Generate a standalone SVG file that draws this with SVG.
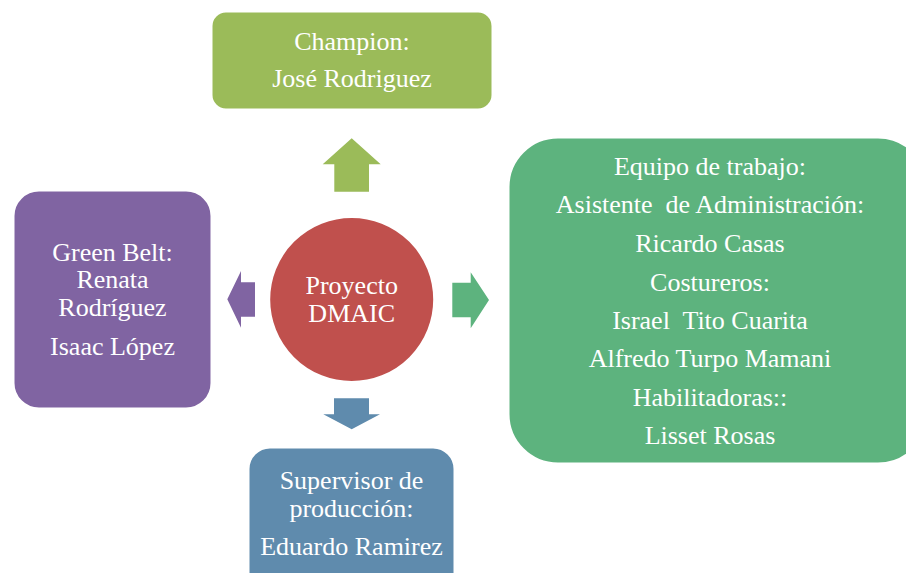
<svg xmlns="http://www.w3.org/2000/svg" width="906" height="573" viewBox="0 0 906 573">
<style>
.t{font-family:'Liberation Serif',serif;font-size:26px;fill:#fff;text-anchor:middle}
.n{stroke:#fff;stroke-width:3}
</style>
<rect width="906" height="573" fill="#fff"/>
<g id="connectors">
<polygon fill="#9BBB59" points="351.7,138.3 380.7,164.3 369,164.3 369,191.7 334.3,191.7 334.3,164.3 322.7,164.3"/>
<polygon fill="#8064A2" points="227.3,299.3 241,271 241,282.3 255,282.3 255,316.7 241,316.7 241,327.7"/>
<polygon fill="#5DB37E" points="489,300 470.7,272.3 470.7,282.7 452.3,282.7 452.3,317.3 470.7,317.3 470.7,328.3"/>
<polygon fill="#5F8BAD" points="351.7,429.3 380,414.3 369,414.3 369,398.3 334,398.3 334,414.3 323.3,414.3"/>
</g>
<g id="node-center">
<circle class="n" cx="351.7" cy="299.5" r="83" fill="#C0504D"/>
<text class="t" x="351.7" y="293.5" style="font-family:'Liberation Serif',serif">Proyecto</text>
<text class="t" x="351.7" y="321.5" style="font-family:'Liberation Serif',serif">DMAIC</text>
</g>
<g id="node-champion">
<rect class="n" x="211" y="11" width="282" height="99" rx="15" fill="#9BBB59"/>
<text class="t" x="352" y="50" style="font-family:'Liberation Serif',serif">Champion:</text>
<text class="t" x="352" y="87" style="font-family:'Liberation Serif',serif">José Rodriguez</text>
</g>
<g id="node-greenbelt">
<rect class="n" x="13" y="190" width="199" height="219" rx="26" fill="#8064A2"/>
<text class="t" x="112.5" y="261" style="font-family:'Liberation Serif',serif">Green Belt:</text>
<text class="t" x="112.5" y="288" style="font-family:'Liberation Serif',serif">Renata</text>
<text class="t" x="112.5" y="315.7" style="font-family:'Liberation Serif',serif">Rodríguez</text>
<text class="t" x="112.5" y="355" style="font-family:'Liberation Serif',serif">Isaac López</text>
</g>
<g id="node-equipo">
<rect class="n" x="508" y="137" width="420" height="327" rx="50" fill="#5DB37E"/>
<text class="t" x="710" y="175" style="font-family:'Liberation Serif',serif">Equipo de trabajo:</text>
<text class="t" x="710" y="213" style="font-family:'Liberation Serif',serif">Asistente&#160; de Administración:</text>
<text class="t" x="710" y="252" style="font-family:'Liberation Serif',serif">Ricardo Casas</text>
<text class="t" x="710" y="290.5" style="font-family:'Liberation Serif',serif">Costureros:</text>
<text class="t" x="710" y="329" style="font-family:'Liberation Serif',serif">Israel&#160; Tito Cuarita</text>
<text class="t" x="710" y="367" style="font-family:'Liberation Serif',serif">Alfredo Turpo Mamani</text>
<text class="t" x="710" y="406" style="font-family:'Liberation Serif',serif">Habilitadoras::</text>
<text class="t" x="710" y="444" style="font-family:'Liberation Serif',serif">Lisset Rosas</text>
</g>
<g id="node-supervisor">
<rect class="n" x="248" y="447" width="207" height="160" rx="22" fill="#5F8BAD"/>
<text class="t" x="351.5" y="489.3" style="font-family:'Liberation Serif',serif">Supervisor de</text>
<text class="t" x="351.5" y="517.3" style="font-family:'Liberation Serif',serif">producción:</text>
<text class="t" x="351.5" y="555" style="font-family:'Liberation Serif',serif">Eduardo Ramirez</text>
</g>
</svg>
